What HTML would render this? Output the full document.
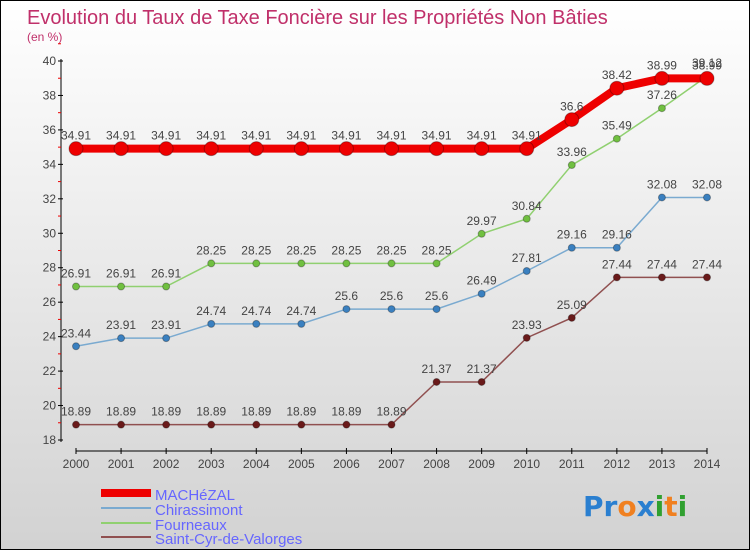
<!DOCTYPE html>
<html><head><meta charset="utf-8"><style>
html,body{margin:0;padding:0}
body{width:750px;height:550px;overflow:hidden;font-family:"Liberation Sans",sans-serif}
#wrap{position:relative;width:748px;height:548px;border:1px solid #000;background:linear-gradient(#fff,#d2d2d2)}
</style></head><body>
<div id="wrap">
<svg id="chart" width="748" height="548" xmlns="http://www.w3.org/2000/svg">
<text x="26" y="23" font-size="20" fill="#c0306a">Evolution du Taux de Taxe Foncière sur les Propriétés Non Bâties</text>
<text x="26" y="40" font-size="12" fill="#c0306a">(en %)</text>
<g id="axes"></g>
<g id="series"></g>
<g id="legend">
<rect x="100" y="488" width="50" height="8" fill="#ee0000"/>
<text x="154" y="499" font-size="15" fill="#6666ff">MACHéZAL</text>
<rect x="100" y="506" width="50" height="2" fill="#7aaad0"/>
<text x="154" y="514" font-size="15" fill="#6666ff">Chirassimont</text>
<rect x="100" y="521" width="50" height="2" fill="#90d070"/>
<text x="154" y="529" font-size="15" fill="#6666ff">Fourneaux</text>
<rect x="100" y="535" width="50" height="2" fill="#905050"/>
<text x="154" y="543" font-size="15" fill="#6666ff">Saint-Cyr-de-Valorges</text>
</g>
<g font-size="28" font-weight="bold" font-family="'DejaVu Sans',sans-serif">
<text x="582" y="515"><tspan fill="#2a7fd0">Pr</tspan><tspan fill="#f08020">o</tspan><tspan fill="#2a7fd0">x</tspan><tspan fill="#30a030">i</tspan><tspan fill="#f08020">t</tspan><tspan fill="#30a030">i</tspan></text>
</g>
</svg>
</div>
<script>
const years=[2000,2001,2002,2003,2004,2005,2006,2007,2008,2009,2010,2011,2012,2013,2014];
const machezal=[34.91,34.91,34.91,34.91,34.91,34.91,34.91,34.91,34.91,34.91,34.91,36.6,38.42,38.99,38.99];
const chirassimont=[23.44,23.91,23.91,24.74,24.74,24.74,25.6,25.6,25.6,26.49,27.81,29.16,29.16,32.08,32.08];
const fourneaux=[26.91,26.91,26.91,28.25,28.25,28.25,28.25,28.25,28.25,29.97,30.84,33.96,35.49,37.26,39.12];
const saintCyr=[18.89,18.89,18.89,18.89,18.89,18.89,18.89,18.89,21.37,21.37,23.93,25.09,27.44,27.44,27.44];
const yTicks=[18,20,22,24,26,28,30,32,34,36,38,40];
const NS="http://www.w3.org/2000/svg";
const X0=75,X1=706,Y0=439,Y1=60,YMIN=18,YMAX=40;
function xs(i){return X0+(X1-X0)*i/(years.length-1);}
function ys(v){return Y0-(v-YMIN)/(YMAX-YMIN)*(Y0-Y1);}
function mk(tag,attrs,parent){const e=document.createElementNS(NS,tag);for(const k in attrs)e.setAttribute(k,attrs[k]);parent.appendChild(e);return e;}
const axes=document.getElementById('axes');
let a=mk('line',{x1:60,y1:Y1-2,x2:60,y2:Y0+2,stroke:'#000','stroke-width':1},axes);


a=mk('line',{x1:X0,y1:450,x2:X1,y2:450,stroke:'#000','stroke-width':1},axes);


yTicks.forEach(t=>{
 mk('line',{x1:57,x2:62,y1:ys(t),y2:ys(t),stroke:'#000'},axes);
 mk('line',{x1:57,x2:60,y1:ys(t+1),y2:ys(t+1),stroke:'#e00'},axes);
 const tx=mk('text',{x:55,y:ys(t)+4,'font-size':12,fill:'#444','text-anchor':'end'},axes);
 tx.textContent=t;
 
 
});
years.forEach((yr,i)=>{
 mk('line',{x1:xs(i),x2:xs(i),y1:447,y2:453,stroke:'#000'},axes);
 const tx=mk('text',{x:xs(i),y:467,'font-size':12,fill:'#444','text-anchor':'middle'},axes);
 tx.textContent=yr;
 
 
});
const ser=document.getElementById('series');
function draw(vals,color,lw,r,name,dot){
 const g=mk('g',{},ser);
 
 
 const p=mk('polyline',{points:vals.map((v,i)=>xs(i)+','+ys(v)).join(' '),fill:'none',stroke:color,'stroke-width':lw},g);
 
 
 vals.forEach((v,i)=>{
  const c=mk('circle',{cx:xs(i),cy:ys(v),r:r,fill:dot,stroke:'rgba(0,0,0,0.3)','stroke-width':1},g);
  
  
  const t=mk('text',{x:xs(i),y:ys(v)-9,'font-size':12,fill:'#444','text-anchor':'middle'},g);
  t.textContent=String(v);
  
  
 });
}
draw(saintCyr,'#905050',1.5,3.5,'saint-cyr-de-valorges','#6a1a1a');
draw(chirassimont,'#7aaad0',1.5,3.5,'chirassimont','#3a80c0');
draw(fourneaux,'#90d070',1.5,3.5,'fourneaux','#70c040');
draw(machezal,'#ee0000',8,7,'machezal','#ee0000');
</script>
</body></html>
